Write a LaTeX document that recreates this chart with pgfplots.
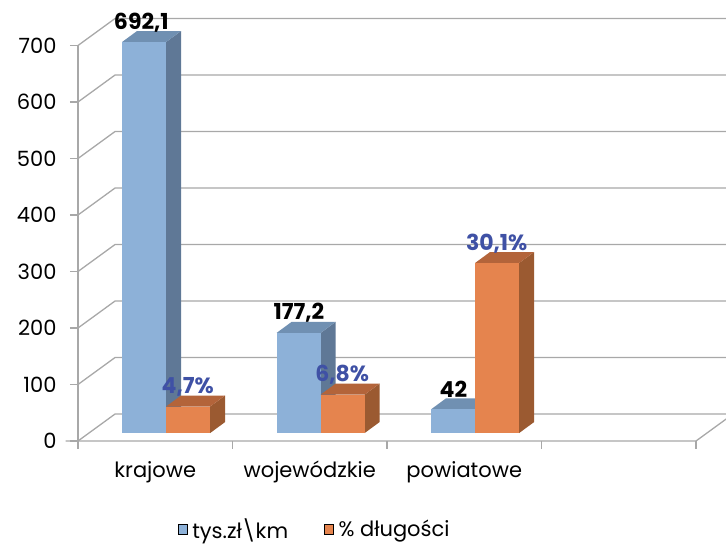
\documentclass[border=0pt]{standalone}
\usepackage{fontspec}
\setmainfont{Poppins}
\usepackage{pgfplots}
\pgfplotsset{compat=1.18}
\definecolor{bluefront}{HTML}{8DB1D8}
\definecolor{blueside}{HTML}{5F7896}
\definecolor{bluetop}{HTML}{7090B2}
\definecolor{orangefront}{HTML}{E5844E}
\definecolor{orangeside}{HTML}{9B5A31}
\definecolor{orangetop}{HTML}{B3643A}
\definecolor{labblue}{HTML}{3F51A5}
\definecolor{gridc}{HTML}{A8A8A8}
\tikzset{
  labk/.style={font=\fontsize{22}{24}\selectfont\bfseries, text=black, inner sep=0pt},
  labb/.style={font=\fontsize{22}{24}\selectfont\bfseries, text=labblue, inner sep=0pt},
  catl/.style={anchor=base, font=\fontsize{21}{23}\selectfont, inner sep=0pt},
}
% 3D bar: #1 left x, #2 value (axis units), #3 colour prefix
\newcommand{\tdbar}[3]{%
  \pgfmathsetmacro\xa{#1}%
  \pgfmathsetmacro\xb{#1+0.285}%
  \pgfmathsetmacro\xc{#1+0.285+0.097}%
  \pgfmathsetmacro\xd{#1+0.097}%
  \pgfmathsetmacro\ya{14}%
  \pgfmathsetmacro\yb{14+#2}%
  \pgfmathsetmacro\yc{14+#2+19.5}%
  \pgfmathsetmacro\ye{14+19.5}%
  \edef\tmp{%
    \noexpand\addplot[fill=#3side,draw=none,forget plot] coordinates {(\xb,\ya) (\xc,\ye) (\xc,\yc) (\xb,\yb)};
    \noexpand\addplot[fill=#3top,draw=none,forget plot] coordinates {(\xa,\yb) (\xd,\yc) (\xc,\yc) (\xb,\yb)};
    \noexpand\addplot[fill=#3front,draw=none,forget plot] coordinates {(\xa,\ya) (\xb,\ya) (\xb,\yb) (\xa,\yb)};
  }\tmp
}
\newcommand{\gridlevel}[1]{%
  \pgfmathsetmacro\gy{#1+47.8}%
  \edef\tmp{%
    \noexpand\addplot[gridc,line width=1.3pt,forget plot] coordinates {(0,#1) (0.24,\gy) (4.3,\gy)};
    \noexpand\addplot[gridc,line width=1.3pt,forget plot] coordinates {(-0.052,#1) (0,#1)};
  }\tmp
}
\begin{document}
\begin{tikzpicture}
\begin{axis}[
  x=154.5pt, y=0.565pt,
  anchor=origin, at={(0pt,0pt)},
  xmin=0, xmax=4.3, ymin=-15, ymax=780,
  clip=false,
  axis line style={draw=none},
  major tick length=0pt,
  xtick=\empty,
  ytick={0,100,...,700},
  yticklabel style={font=\fontsize{21}{23}\selectfont, anchor=east, xshift=-18pt},
  /pgf/number format/assume math mode=true,
  legend columns=2,
  legend style={at={(axis cs:0.645,-156)}, anchor=west, draw=none, fill=none,
    font=\fontsize{21}{23}\selectfont, inner sep=0pt,
    /tikz/every odd column/.append style={column sep=3pt},
    /tikz/every even column/.append style={column sep=34pt}},
  legend image code/.code={\fill[#1] (0pt,-5pt) rectangle (9pt,5pt);},
]
% walls / grid
\gridlevel{0}
\gridlevel{100}
\gridlevel{200}
\gridlevel{300}
\gridlevel{400}
\gridlevel{500}
\gridlevel{600}
\gridlevel{700}
\addplot[gridc,line width=1.3pt,forget plot] coordinates {(0,0) (0,700)};
\addplot[gridc,line width=1.3pt,forget plot] coordinates {(-0.08,0) (4,0) (4.24,47.8)};
\addplot[gridc,line width=1.3pt,forget plot] coordinates {(0,0) (0,-14)};
\addplot[gridc,line width=1.3pt,forget plot] coordinates {(1,0) (1,-14)};
\addplot[gridc,line width=1.3pt,forget plot] coordinates {(2,0) (2,-14)};
\addplot[gridc,line width=1.3pt,forget plot] coordinates {(3,0) (3,-14)};
\addplot[gridc,line width=1.3pt,forget plot] coordinates {(4,0) (4,-14)};
% bars: tys.zl\km (blue) and % dlugosci x10 (orange)
\tdbar{0.285}{692.1}{blue}
\tdbar{0.570}{47}{orange}
\tdbar{1.285}{177.2}{blue}
\tdbar{1.570}{68}{orange}
\tdbar{2.285}{42}{blue}
\tdbar{2.570}{301}{orange}
% labels
\node[labk] at (axis cs:0.41,{14+692.1+35}) {692,1};
\node[labk] at (axis cs:1.43,{14+177.2+35}) {177,2};
\node[labk] at (axis cs:2.43,{14+42+35}) {42};
\node[labb] at (axis cs:0.71,{14+47+35}) {4,7\%};
\node[labb] at (axis cs:1.71,{14+68+35}) {6,8\%};
\node[labb] at (axis cs:2.71,{14+301+35}) {30,1\%};
% category names
\node[catl] at (axis cs:0.5,0) [yshift=-37pt] {krajowe};
\node[catl] at (axis cs:1.5,0) [yshift=-37pt] {wojewódzkie};
\node[catl] at (axis cs:2.5,0) [yshift=-37pt] {powiatowe};
% legend
\addlegendimage{fill=bluefront}
\addlegendentry{tys.zł\textbackslash km}
\addlegendimage{fill=orangefront}
\addlegendentry{\% długości}
\end{axis}
\pgfresetboundingbox
\useasboundingbox (-78pt,-107pt) rectangle (648pt,441pt);
\end{tikzpicture}
\end{document}
